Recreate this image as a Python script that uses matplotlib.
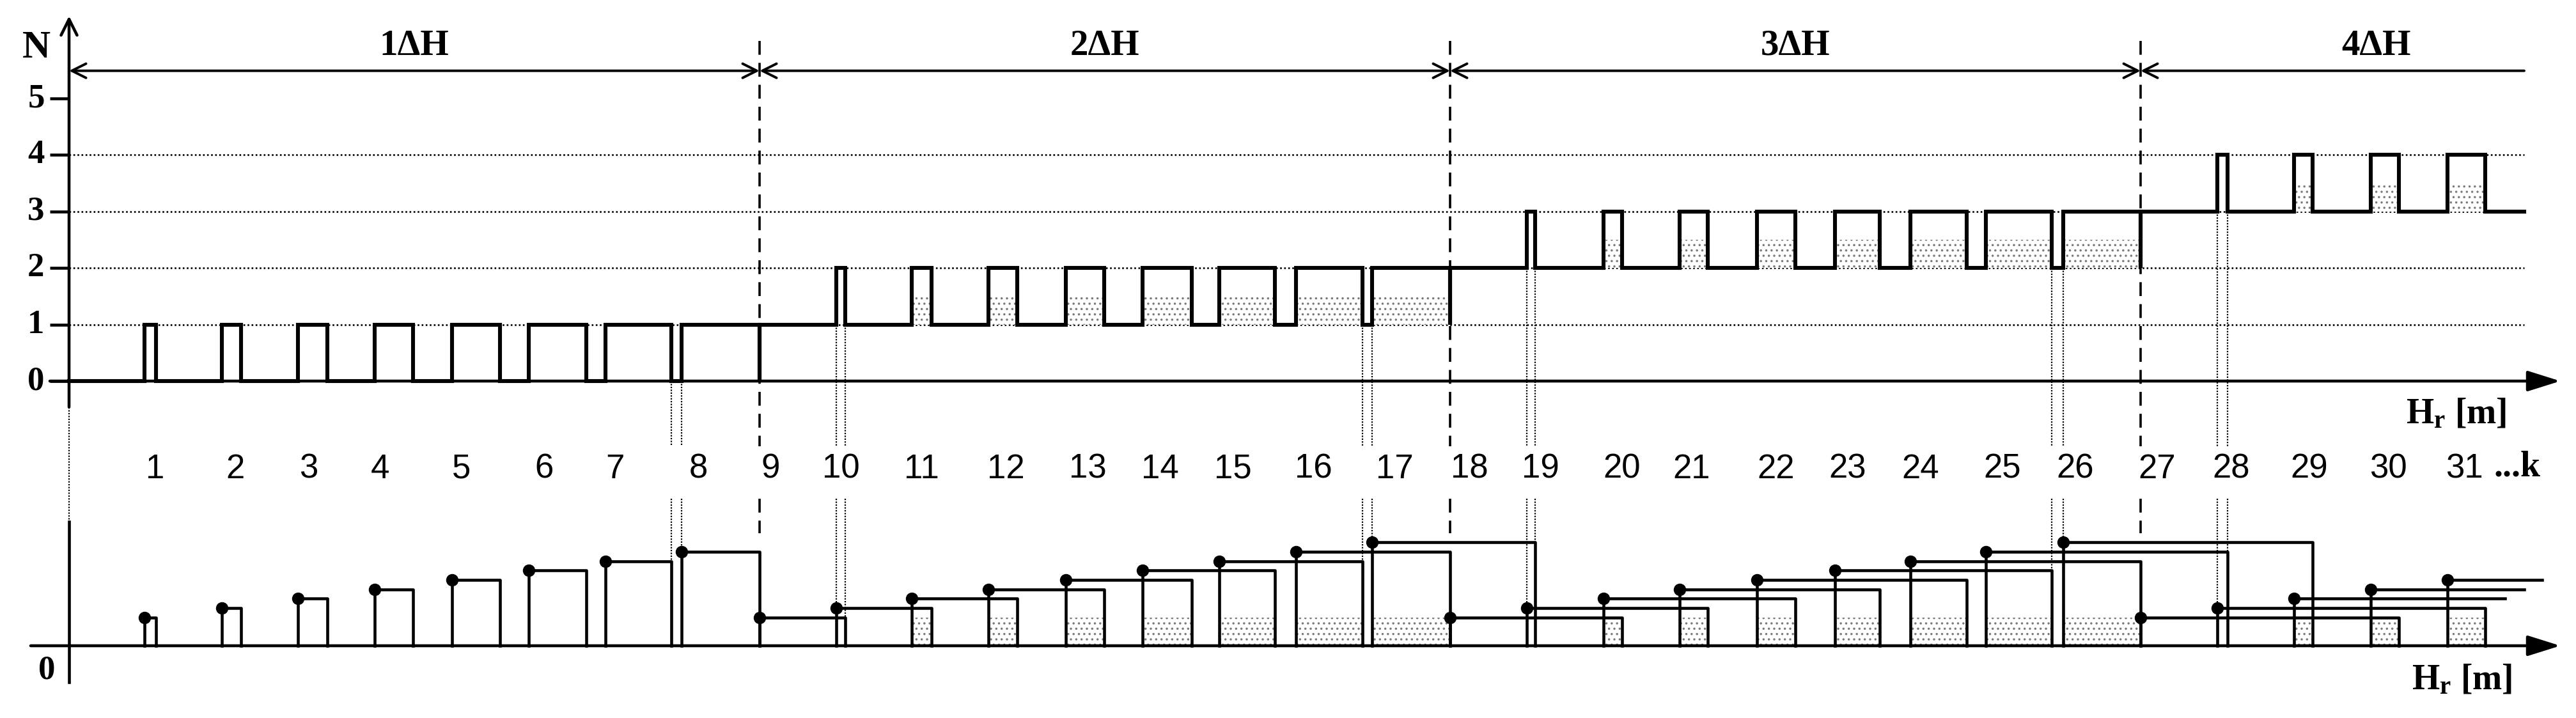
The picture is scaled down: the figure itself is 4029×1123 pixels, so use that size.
import numpy as np
import matplotlib.pyplot as plt
from matplotlib.patches import Rectangle

plt.rcParams['mathtext.fontset'] = 'custom'
plt.rcParams['mathtext.rm'] = 'Liberation Serif:bold'
plt.rcParams['mathtext.bf'] = 'Liberation Serif:bold'
plt.rcParams['mathtext.it'] = 'Liberation Serif:bold'
plt.rcParams['hatch.linewidth'] = 1.3

# events k = 1..31, x in units of one step (boundaries of each dH at 9, 18, 27)
events = list(range(1, 32))
boundaries = [9, 18, 27]
seg_base = [0, 1, 2, 3]
nan = float('nan')
pulse_on = [0.98, 1.99, 2.98, 3.98, 4.99, 5.99, 6.99, 7.98, 9.0,
            10.0, 10.98, 11.98, 12.99, 13.99, 14.99, 15.99, 16.98, 18.0,
            19.0, 20.0, 20.99, 22.0, 23.02, 24.0, 24.98, 25.99, 27.0,
            28.0, 29.0, 30.0, 31.0]
pulse_off = [1.13, 2.24, 3.37, 4.48, 5.62, 6.74, 7.85, 9.0, nan,
             10.12, 11.24, 12.36, 13.49, 14.63, 15.72, 16.86, 18.0, nan,
             19.11, 20.24, 21.36, 22.5, 23.6, 24.73, 25.84, 27.0, nan,
             28.13, 29.24, 30.37, 31.49]
bar_height = [3, 4, 5, 6, 7, 8, 9, 10, 3,
              4, 5, 6, 7, 8, 9, 10, 11, 3,
              4, 5, 6, 7, 8, 9, 10, 11, 3,
              4, 5, 6, 7]
bar_end = [1.13, 2.24, 3.37, 4.48, 5.62, 6.74, 7.85, 9.0, 10.12,
           11.24, 12.36, 13.49, 14.63, 15.72, 16.86, 18.0, 19.11, 20.24,
           21.36, 22.5, 23.6, 24.73, 25.84, 27.0, 28.13, 29.24, 30.37,
           31.49, 31.75, 32.0, 32.23]
open_bars = [29, 30, 31]
shaded = [11, 12, 13, 14, 15, 16, 17, 20, 21, 22, 23, 24, 25, 26, 29, 30, 31]
label_x = [1.12, 2.17, 3.12, 4.05, 5.11, 6.19, 7.12, 8.2, 9.14, 10.06,
           11.11, 12.21, 13.28, 14.22, 15.17, 16.22, 17.28, 18.25, 19.18, 20.24,
           21.15, 22.25, 23.18, 24.13, 25.2, 26.15, 27.21, 28.18, 29.2, 30.23, 31.22]
guide_x = [7.85, 7.98, 10.0, 10.12, 16.86, 16.98, 19.0, 19.11, 25.84, 25.99, 28.0, 28.13]
guide_top = [0, 0, 1, 1, 1, 1, 2, 2, 2, 2, 3, 3]
seg_titles = ['1\u0394H', '2\u0394H', '3\u0394H', '4\u0394H']
title_x = [4.5, 13.5, 22.5, 30.07]
n_ticks = [0, 1, 2, 3, 4, 5]
grid_levels = [1, 2, 3, 4]
x_end = 32.0

serif = 'Liberation Serif'
fig = plt.figure(figsize=(40.3, 11.23), dpi=100)
ax = fig.add_axes([0, 0, 1, 1])
bx = fig.add_axes([0, 0, 1, 1])
for a in (ax, bx):
    a.set_xlim(-0.9, 32.683)
    a.axis('off')
    a.patch.set_alpha(0)
ax.set_ylim(-5.961, 6.742)
bx.set_ylim(-7.687, 68.707)

def seg(k):
    return sum(k >= b for b in boundaries)

# ---- top panel: N(Hr)
ax.annotate('', xy=(0, 6.46), xytext=(0, -0.46),
            arrowprops=dict(arrowstyle='->', lw=3.3, mutation_scale=45, shrinkA=0, shrinkB=0))
ax.plot([0, 0], [-0.46, -2.49], color='black', lw=1.6, ls=(0, (1, 1)))
ax.annotate('', xy=(32.47, 0), xytext=(-0.25, 0),
            arrowprops=dict(arrowstyle='-|>,head_length=0.7,head_width=0.22', lw=3.3,
                            mutation_scale=45, shrinkA=0, shrinkB=0, color='black'))
for n in n_ticks:
    ax.plot([-0.25, 0], [n, n], color='black', lw=3.3, solid_capstyle='butt')
    ax.text(-0.43, n, str(n), fontsize=38, fontweight='bold', family=serif,
            ha='center', va='center')
ax.text(-0.43, 5.89, 'N', fontsize=44, fontweight='bold', family=serif,
        ha='center', va='center')
for g in grid_levels:
    ax.plot([0, x_end], [g, g], color='black', lw=1.9, ls=(0, (1, 1.4)))

# dimension arrows for each dH
dim_y = 5.49
edges = [0] + boundaries
for i in range(3):
    ax.annotate('', xy=(edges[i + 1], dim_y), xytext=(edges[i], dim_y),
                arrowprops=dict(arrowstyle='<->', lw=2.8, mutation_scale=40, shrinkA=0, shrinkB=0))
ax.annotate('', xy=(boundaries[-1], dim_y), xytext=(x_end, dim_y),
            arrowprops=dict(arrowstyle='->', lw=2.8, mutation_scale=40, shrinkA=0, shrinkB=0))
for t, tx in zip(seg_titles, title_x):
    ax.text(tx, 5.93, t, fontsize=41, fontweight='bold', family=serif, ha='center', va='center')

# dashed boundaries
for b in boundaries:
    ax.plot([b, b], [6.02, -1.15], color='black', lw=2.6, ls=(0, (6, 3.5)))
    bx.plot([b, b], [15.65, 11.97], color='black', lw=2.6, ls=(0, (6, 3.5)))

# signal
xs, ys = [0], [0]
for k, on, off in zip(events, pulse_on, pulse_off):
    base = seg_base[seg(k)]
    if k in boundaries:
        xs += [on, on]
        ys += [base - 1, base]
    else:
        xs += [on, on, off, off]
        ys += [base, base + 1, base + 1, base]
xs.append(x_end)
ys.append(seg_base[-1])
ax.plot(xs, ys, color='black', lw=4.4, solid_joinstyle='miter', zorder=5)

# shading
for k, on, off, h in zip(events, pulse_on, pulse_off, bar_height):
    if k in shaded:
        base = seg_base[seg(k)]
        ax.add_patch(Rectangle((on, base), off - on, 0.5, facecolor='white',
                               edgecolor='#7a7a7a', hatch='..', lw=0, zorder=2))
        bx.add_patch(Rectangle((on, 0), off - on, 3, facecolor='white',
                               edgecolor='#7a7a7a', hatch='..', lw=0, zorder=2))

# guide lines between the panels
for gx, gt in zip(guide_x, guide_top):
    ax.plot([gx, gx], [gt, -1.15], color='black', lw=1.6, ls=(0, (1, 1)), zorder=3)
    bx.plot([gx, gx], [15.65, 0], color='black', lw=1.6, ls=(0, (1, 1)), zorder=3)

ax.text(30.46, -0.59, r'$\mathbf{H_r}$ [m]', fontsize=40, fontweight='bold', family=serif,
        ha='left', va='center')

# event numbers
for k, lx in zip(events, label_x):
    ax.text(lx, -1.56, str(k), fontsize=38, family='Liberation Sans', ha='center', va='center')
ax.text(31.6, -1.52, '...k', fontsize=40, fontweight='bold', family=serif, ha='left', va='center')

# ---- bottom panel
bx.plot([0, 0], [13.2, -3.88], color='black', lw=3.3)
bx.annotate('', xy=(32.47, 0), xytext=(-0.5, 0),
            arrowprops=dict(arrowstyle='-|>,head_length=0.7,head_width=0.22', lw=3.3,
                            mutation_scale=45, shrinkA=0, shrinkB=0, color='black'))
bx.text(-0.29, -2.65, '0', fontsize=38, fontweight='bold', family=serif, ha='center', va='center')
bx.text(30.53, -3.7, r'$\mathbf{H_r}$ [m]', fontsize=40, fontweight='bold', family=serif,
        ha='left', va='center')

for k, on, h, end in zip(events, pulse_on, bar_height, bar_end):
    if k in open_bars:
        bx.plot([on, on, end], [0, h, h], color='black', lw=3.3, zorder=5)
    else:
        bx.plot([on, on, end, end], [0, h, h, 0], color='black', lw=3.3, zorder=5)
    bx.plot(on, h, 'o', color='black', ms=13, zorder=6)

fig.savefig('out.png', dpi=100)
